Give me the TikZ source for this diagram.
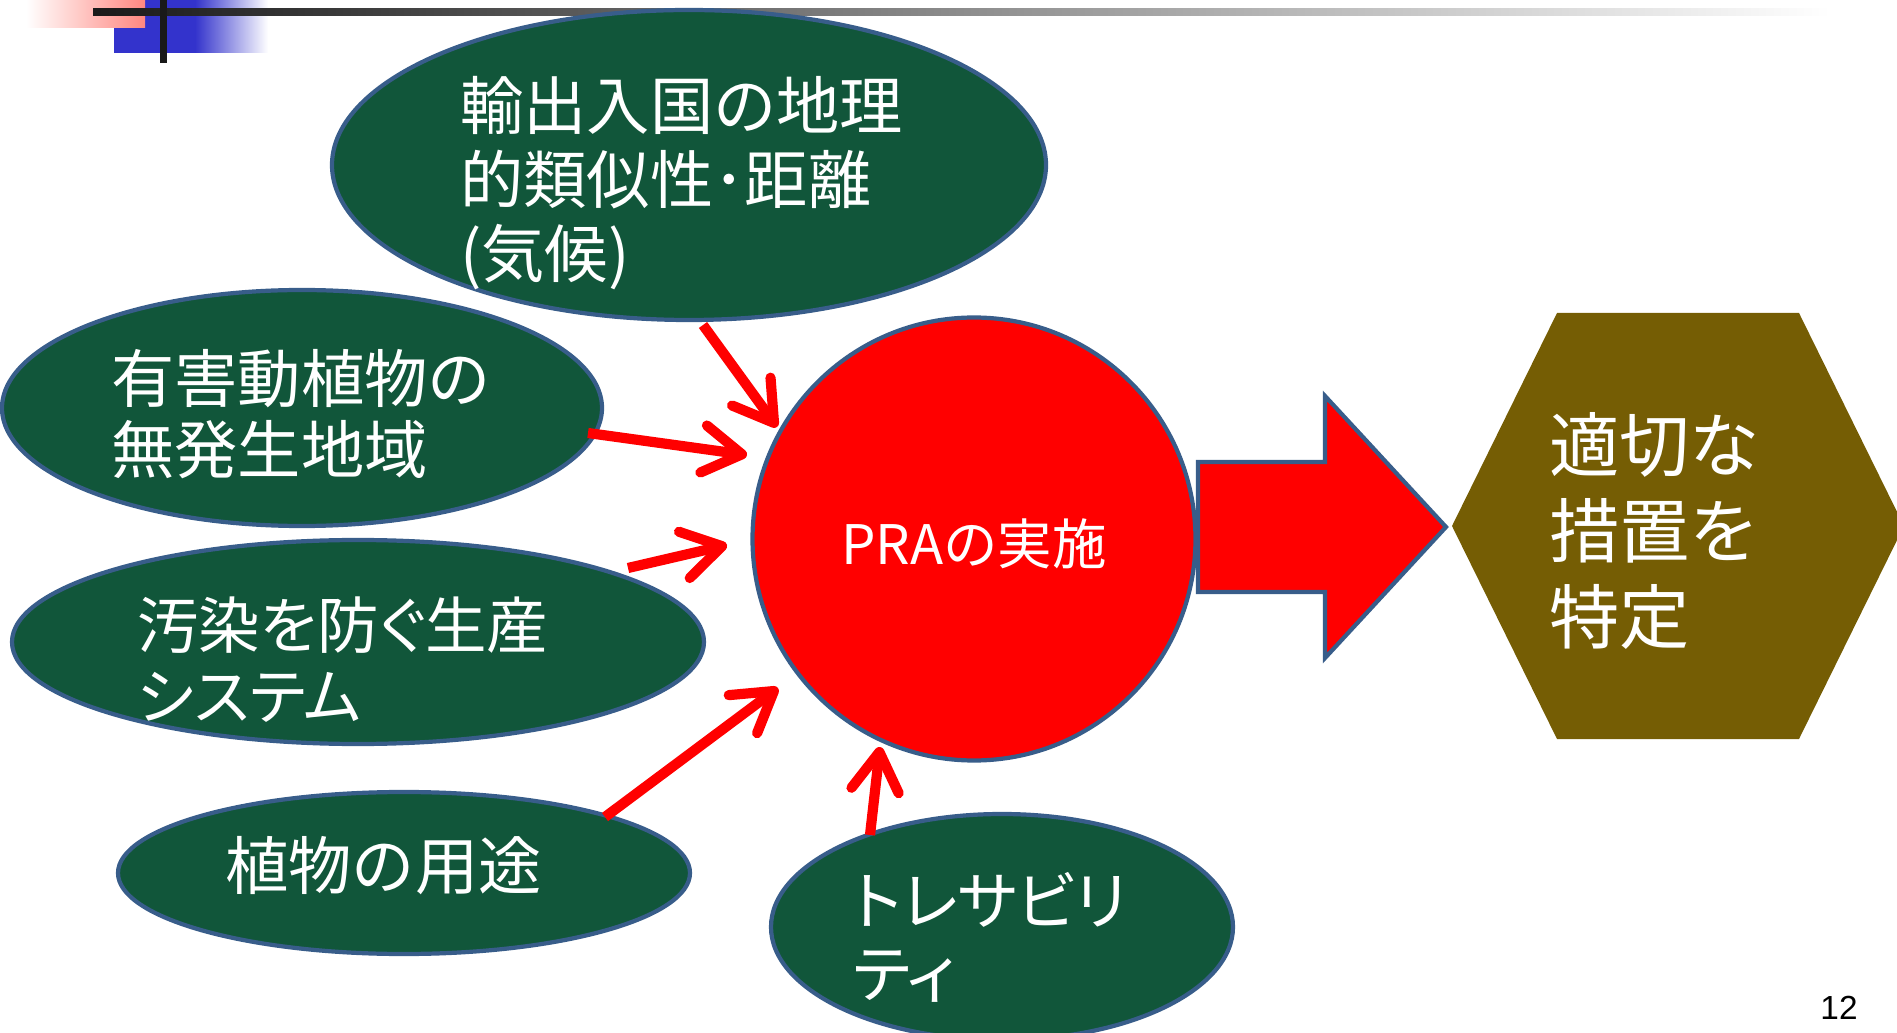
\documentclass[tikz,border=0pt]{standalone}
\usepackage{fontspec}
\setmainfont{Noto Sans CJK JP}
\newfontfamily\paltfont[RawFeature=+palt]{Noto Sans CJK JP}
\newfontfamily\numfont{Liberation Sans}
\usetikzlibrary{shapes.geometric,arrows.meta}
\definecolor{egreen}{RGB}{17,86,58}
\definecolor{eborder}{RGB}{56,93,138}
\definecolor{olivebox}{RGB}{117,93,4}
\definecolor{dblue}{RGB}{51,51,204}
\definecolor{salmon}{RGB}{255,135,128}
\def\PX{0.02cm}
\begin{document}
\begin{tikzpicture}[x=0.02cm,y=-0.02cm,
  oval/.style={ellipse, draw=eborder, line width=2.4pt, fill=egreen, inner sep=0},
  lbl/.style={anchor=west, inner sep=0, align=left, text=white},
  redarrow/.style={draw=red, line width=5.8pt, line cap=butt,
    -{Straight Barb[length=22pt,width=27pt,line cap=round,line join=round]}}
]
\useasboundingbox (0,0) rectangle (1897,1033);
\clip (0,0) rectangle (1897,1033);
% top-left decoration
\fill[dblue] (114,0) rectangle (196,53);
\shade[left color=dblue, right color=white] (195,0) rectangle (268,53);
\shade[left color=white, right color=salmon] (26,0) rectangle (145,28);
\shade[left color=black!90, right color=white] (93,9) rectangle (1830,16);
\fill[black!90] (160,0) rectangle (167,63);

% ellipses
\node[oval, minimum width=714*\PX, minimum height=310*\PX] (e1) at (689,165) {};
\node[oval, minimum width=600*\PX, minimum height=236*\PX] (e2) at (302,408) {};
\node[oval, minimum width=692*\PX, minimum height=204*\PX] (e3) at (358,642) {};
\node[oval, minimum width=572*\PX, minimum height=162*\PX] (e4) at (404,873) {};
\node[oval, minimum width=462*\PX, minimum height=226*\PX] (e5) at (1002,927) {};

% central circle
\node[circle, draw=eborder, line width=2.4pt, fill=red, minimum size=443*\PX, inner sep=0] (pra) at (974,539) {};

% block arrow
\draw[eborder, line width=2.4pt, fill=red, line join=miter]
  (1198,462) -- (1325,462) -- (1325,396) -- (1446,527) -- (1325,658) -- (1325,592) -- (1198,592) -- cycle;

% hexagon
\fill[olivebox] (1452,526) -- (1557,313) -- (1799,313) -- (1904,526) -- (1799,739) -- (1557,739) -- cycle;

% texts
\node[lbl, font=\fontsize{36}{42}\selectfont] (t1) at (460,183) {輸出入国の地理\\的類似性･距離\\(気候)};
\node[lbl, font=\fontsize{36}{40.5}\selectfont] (t2) at (111,414) {有害動植物の\\無発生地域};
\node[lbl, font=\paltfont\fontsize{35}{40.5}\selectfont] (t3) at (137,660) {汚染を防ぐ生産\\システム};
\node[lbl, font=\fontsize{36}{42}\selectfont] (t4) at (225,866) {植物の用途};
\node[lbl, font=\paltfont\fontsize{36}{41.5}\selectfont] (t5) at (853,937) {トレサビリ\\ティ};
\node[text=white, inner sep=0, font=\fontsize{31}{36}\selectfont] (t6) at (974,544) {PRAの実施};
\node[lbl, font=\fontsize{40}{49}\selectfont] (t7) at (1549,531) {適切な\\措置を\\特定};
\node[inner sep=0, font=\numfont\fontsize{19}{22}\selectfont] (pg) at (1839,1008) {12};

% red arrows
\coordinate (a1s) at (703,325); \coordinate (a1e) at (777,427);
\coordinate (a2s) at (588,433); \coordinate (a2e) at (747,455);
\coordinate (a3s) at (628,568); \coordinate (a3e) at (727,545);
\coordinate (a4s) at (605,817); \coordinate (a4e) at (778,688);
\coordinate (a5s) at (870,835); \coordinate (a5e) at (880,747);
\draw[redarrow] (a1s) -- (a1e);
\draw[redarrow] (a2s) -- (a2e);
\draw[redarrow] (a3s) -- (a3e);
\draw[redarrow] (a4s) -- (a4e);
\draw[redarrow] (a5s) -- (a5e);
\end{tikzpicture}
\end{document}
